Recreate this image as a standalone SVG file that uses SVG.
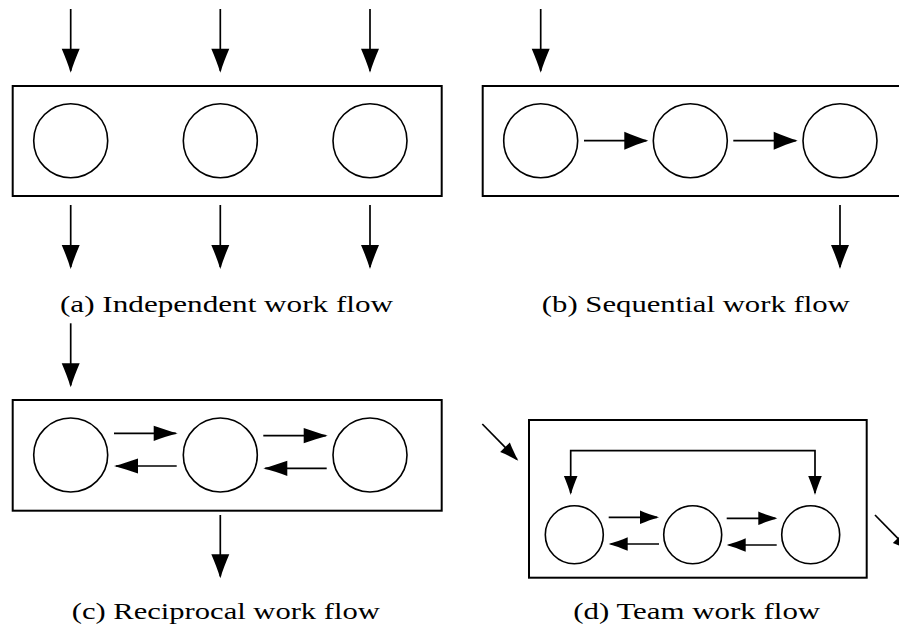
<svg xmlns="http://www.w3.org/2000/svg" width="899" height="628" viewBox="0 0 899 628">
<style>
.box{fill:none;stroke:#000;stroke-width:2}
.nd{fill:#fff;stroke:#000;stroke-width:1.6}
.ar{fill:none;stroke:#000;stroke-width:1.7}
.big{marker-end:url(#mBig)}
.mid{marker-end:url(#mMid)}
.sm{marker-end:url(#mSm)}
.lbl{font-family:"Liberation Serif","DejaVu Serif",serif;font-size:23px;fill:#000;text-anchor:middle}
</style>
<defs>
<marker id="mBig" markerUnits="userSpaceOnUse" orient="auto" refX="0" refY="0" markerWidth="40" markerHeight="40" viewBox="-30 -15 40 30" overflow="visible">
<path d="M2,0 C-6,-2.4 -14,-5.6 -22,-9 L-22,9 C-14,5.6 -6,2.4 2,0 Z" fill="#000"/>
</marker>
<marker id="mMid" markerUnits="userSpaceOnUse" orient="auto" refX="0" refY="0" markerWidth="40" markerHeight="40" viewBox="-30 -15 40 30" overflow="visible">
<path d="M2,0 C-6,-2 -14,-4.8 -22,-7.6 L-22,7.6 C-14,4.8 -6,2 2,0 Z" fill="#000"/>
</marker>
<marker id="mSm" markerUnits="userSpaceOnUse" orient="auto-start-reverse" refX="0" refY="0" markerWidth="40" markerHeight="40" viewBox="-30 -15 40 30" overflow="visible">
<path d="M2,0 C-4,-1.8 -11,-4.2 -17,-6.8 L-17,6.8 C-11,4.2 -4,1.8 2,0 Z" fill="#000"/>
</marker>
</defs>

<!-- (a) Independent -->
<g id="panel-a">
<rect class="box" x="12.7" y="86" width="429" height="110"/>
<g id="a-n1"><circle class="nd" cx="70.7" cy="140.7" r="37"/></g>
<g id="a-n2"><circle class="nd" cx="220.3" cy="140.7" r="37"/></g>
<g id="a-n3"><circle class="nd" cx="370" cy="140.7" r="37"/></g>
<text class="lbl" x="226.5" y="311.5" textLength="333" lengthAdjust="spacingAndGlyphs">(a) Independent work flow</text>
</g>

<!-- (b) Sequential -->
<g id="panel-b">
<rect class="box" x="482.7" y="86" width="440" height="110"/>
<g id="b-n1"><circle class="nd" cx="540.7" cy="140.7" r="37"/></g>
<g id="b-n2"><circle class="nd" cx="690.3" cy="140.7" r="37"/></g>
<g id="b-n3"><circle class="nd" cx="840" cy="140.7" r="37"/></g>
<text class="lbl" x="695.8" y="311.5" textLength="308" lengthAdjust="spacingAndGlyphs">(b) Sequential work flow</text>
</g>

<!-- (c) Reciprocal -->
<g id="panel-c">
<rect class="box" x="12.7" y="400" width="429" height="110.7"/>
<g id="c-n1"><circle class="nd" cx="70.7" cy="455" r="37"/></g>
<g id="c-n2"><circle class="nd" cx="220.3" cy="455" r="37"/></g>
<g id="c-n3"><circle class="nd" cx="370" cy="455" r="37"/></g>
<text class="lbl" x="225.8" y="619" textLength="308" lengthAdjust="spacingAndGlyphs">(c) Reciprocal work flow</text>
</g>

<!-- (d) Team -->
<g id="panel-d">
<rect class="box" x="529" y="420" width="337.7" height="157.7"/>
<g id="d-n1"><circle class="nd" cx="574.3" cy="534.7" r="29"/></g>
<g id="d-n2"><circle class="nd" cx="692.7" cy="534.7" r="29"/></g>
<g id="d-n3"><circle class="nd" cx="810.7" cy="534.7" r="29"/></g>
<text class="lbl" x="696.7" y="619" textLength="247" lengthAdjust="spacingAndGlyphs">(d) Team work flow</text>
</g>

<g id="connectors">
<!-- a -->
<line class="ar big" x1="70.7" y1="9" x2="70.7" y2="70.7"/>
<line class="ar big" x1="220.3" y1="9" x2="220.3" y2="70.7"/>
<line class="ar big" x1="370" y1="9" x2="370" y2="70.7"/>
<line class="ar big" x1="70.7" y1="205" x2="70.7" y2="267"/>
<line class="ar big" x1="220.3" y1="205" x2="220.3" y2="267"/>
<line class="ar big" x1="370" y1="205" x2="370" y2="267"/>
<!-- b -->
<line class="ar big" x1="540.7" y1="9" x2="540.7" y2="70.7"/>
<line class="ar big" x1="840" y1="205" x2="840" y2="267"/>
<line class="ar big" x1="584" y1="140.7" x2="646.3" y2="140.7"/>
<line class="ar big" x1="733.3" y1="140.7" x2="795.7" y2="140.7"/>
<!-- c -->
<line class="ar big" x1="70.7" y1="323.3" x2="70.7" y2="385.3"/>
<line class="ar big" x1="220.3" y1="515" x2="220.3" y2="576.3"/>
<line class="ar mid" x1="114" y1="433.3" x2="175.7" y2="433.3"/>
<line class="ar mid" x1="263.3" y1="435.7" x2="325.7" y2="435.7"/>
<line class="ar mid" x1="176.7" y1="466" x2="116" y2="466"/>
<line class="ar mid" x1="326.7" y1="468.3" x2="265.3" y2="468.3"/>
<!-- d -->
<path class="ar" d="M570.7,493 V450.7 H815 V493" marker-start="url(#mSm)" marker-end="url(#mSm)"/>
<line class="ar sm" x1="608.7" y1="517.3" x2="657" y2="517.3"/>
<line class="ar sm" x1="726.7" y1="518.3" x2="775.3" y2="518.3"/>
<line class="ar sm" x1="659" y1="544" x2="610.7" y2="544"/>
<line class="ar sm" x1="776.7" y1="545" x2="728.7" y2="545"/>
<line class="ar sm" x1="482.3" y1="424" x2="516.9" y2="459.3"/>
<line class="ar sm" x1="875" y1="515" x2="909.6" y2="550.3"/>
</g>
</svg>
